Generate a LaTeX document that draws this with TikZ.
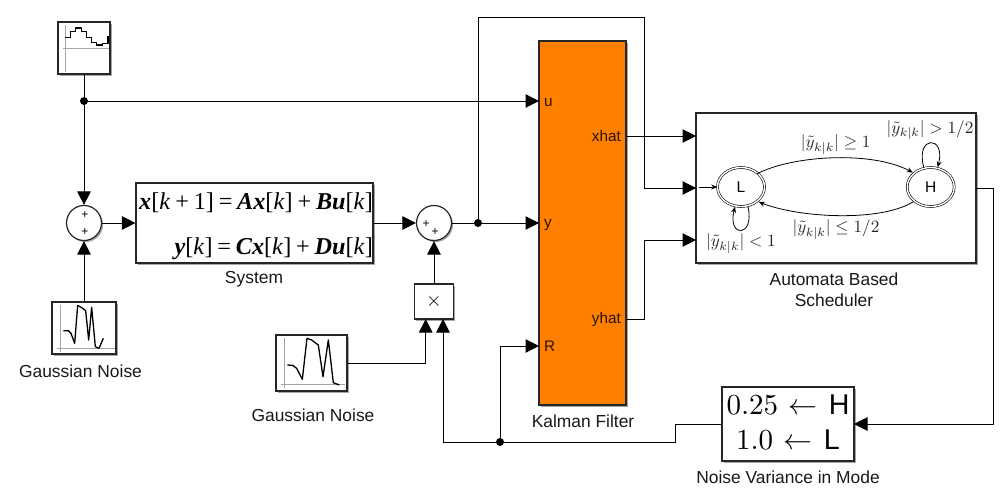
\documentclass[tikz,border=0pt]{standalone}
\usepackage{amsmath,amssymb}
\usepackage{graphicx}
\usepackage{fontspec}
\setmainfont{Liberation Sans}
\newfontfamily\eqfont{Liberation Serif}
\usetikzlibrary{arrows.meta,shapes.geometric,shadows,calc}
\definecolor{kalman}{HTML}{FF8000}
\newcommand{\bi}[1]{{\bfseries\itshape #1}}
\newcommand{\kk}{[\textit{k}]}
\newcommand{\op}[1]{\hspace{.2em}#1\hspace{.2em}}
\newcommand{\modeline}[2]{\scalebox{2.9}{$#1$\hspace{3.6pt}$\leftarrow$\hspace{3.9pt}}\scalebox{2.75}{\fontsize{10.4}{12}\selectfont #2}}
\tikzset{
  x=1pt,y=-1pt,
  blockbase/.style={draw=black!85,line width=1.2pt,fill=white,inner sep=0pt,rectangle,
    drop shadow={shadow xshift=1.6pt,shadow yshift=-1.6pt,opacity=.35,fill=black}},
  sumbase/.style={blockbase,circle,minimum size=35pt},
  sig/.style={line width=1pt,-{Triangle[length=13.5pt,width=13.5pt]}},
  wire/.style={line width=1pt},
  dotj/.style={circle,fill=black,inner sep=0pt,minimum size=8pt},
  lab/.style={font=\fontsize{17.4}{21}\selectfont,inner sep=0pt,align=center,text=black!90},
  port/.style={font=\fontsize{15.3}{18}\selectfont,inner sep=0pt,text=black!85!kalman},
  plus/.style={font=\fontsize{12}{12}\selectfont,inner sep=0pt},
  state/.style={draw=black,ellipse,line width=.6pt,double,double distance=1.4pt,minimum width=47pt,minimum height=39pt,inner sep=0pt,fill=white,font=\fontsize{15.5}{18}\selectfont},
  auto/.style={line width=.8pt,-{Stealth[length=6pt,width=5pt]}},
  translab/.style={inner sep=0pt,scale=1.72,text=black!85},
  axisl/.style={line width=.9pt,black!35},
  trace/.style={line width=1.3pt,black,line join=round},
}
\begin{document}
\begin{tikzpicture}
\useasboundingbox (0,0) rectangle (1007,501);
\fill[white] (0,0) rectangle (1007,501);

% blocks
\node[blockbase,minimum width=52pt,minimum height=52pt] (step) at (84,48) {};
\node[blockbase,minimum width=64pt,minimum height=52pt] (noisea) at (84,328) {};
\node[blockbase,minimum width=71pt,minimum height=56pt] (noiseb) at (311.5,363) {};
\node[sumbase] (suma) at (84,223) {};
\node[sumbase] (sumb) at (434,223) {};
\node[blockbase,minimum width=237pt,minimum height=80pt] (sys) at (254.5,223)
  {\hspace{3pt}\raisebox{-2.5pt}[\height][\depth]{\eqfont\fontsize{24.2}{30}\selectfont\begin{tabular}{@{}r@{}}\bi{x}[\textit{k}\op{+}1]\op{=}\bi{Ax}\kk\op{+}\bi{Bu}\kk\\[15pt]\bi{y}\kk\op{=}\bi{Cx}\kk\op{+}\bi{Du}\kk\end{tabular}}};
\node[blockbase,minimum width=39pt,minimum height=35pt] (prod) at (434,301.5) {\scalebox{2}{$\times$}};
\node[blockbase,fill=kalman,minimum width=87pt,minimum height=364pt] (kal) at (582.5,223) {};
\node[blockbase,minimum width=280pt,minimum height=150pt] (sched) at (836,188) {};
\node[blockbase,minimum width=132pt,minimum height=74pt] (var) at (788,424)
  {\begin{tabular}{@{}c@{}}\modeline{0.25}{H}\\[12pt]\modeline{1.0}{L}\end{tabular}};

% block labels
\node[lab] (lsys) at (254,279) {System};
\node[lab] (lkal) at (583,421) {Kalman Filter};
\node[lab] (lvar) at (788,477) {Noise Variance in Mode};
\node[lab] (lsched) at (834,289.5) {Automata Based\\Scheduler};
\node[lab] (lna) at (80.5,371) {Gaussian Noise};
\node[lab] (lnb) at (313,415) {Gaussian Noise};

% port labels
\node[port,anchor=west] (pu) at (544,102.5) {u};
\node[port,anchor=west] (py) at (544,225) {y};
\node[port,anchor=west] (pr) at (544,346) {R};
\node[port,anchor=east] (px) at (621,136.5) {xhat};
\node[port,anchor=east] (pyh) at (621,320) {yhat};

% sum signs
\node[plus] (sa1) at (85,215) {+};
\node[plus] (sa2) at (85,232.5) {+};
\node[plus] (sb1) at (426,224) {+};
\node[plus] (sb2) at (435,232.5) {+};

% port coordinates
\coordinate (ku) at (539,101);
\coordinate (ky) at (539,223);
\coordinate (kr) at (539,346);
\coordinate (kx) at (626,136);
\coordinate (kyh) at (626,319);
\coordinate (sx) at (696,136);
\coordinate (sf) at (696,188);
\coordinate (sy) at (696,240);
\coordinate (so) at (976,188);
\coordinate (vin) at (854,424);
\coordinate (vout) at (722,424);
\coordinate (pa) at (425.7,319);
\coordinate (pb) at (443,319);
\coordinate (na) at (347,363);
\coordinate (ctop1) at (478,17.5);
\coordinate (ctop2) at (644.5,17.5);
\coordinate (cy) at (644.5,240);
\coordinate (cout) at (993,188);
\coordinate (cout2) at (993,424);
\coordinate (cv1) at (675,424);
\coordinate (cv2) at (675,442);
\coordinate (cb) at (443,442);

% junctions
\node[dotj] (ja) at (84,101) {};
\node[dotj] (jb) at (478,223) {};
\node[dotj] (jc) at (500,442) {};

% connectors
\draw[wire] (step.south) -- (ja);
\draw[sig] (ja) -- (ku);
\draw[sig] (ja) -- (suma.north);
\draw[sig] (noisea.north) -- (suma.south);
\draw[sig] (suma.east) -- (sys.west);
\draw[sig] (sys.east) -- (sumb.west);
\draw[sig] (prod.north) -- (sumb.south);
\draw[sig] (sumb.east) -- (jb) -- (ky);
\draw[sig] (jb) -- (ctop1) -- (ctop2) -- (ctop2 |- sf) -- (sf);
\draw[sig] (kx) -- (sx);
\draw[sig] (kyh) -- (kyh -| cy) -- (cy) -- (sy);
\draw[sig] (so) -- (cout) -- (cout2) -- (vin);
\draw[wire] (vout) -- (cv1) -- (cv2) -- (jc);
\draw[sig] (jc) -- (cb) -- (pb);
\draw[sig] (jc) -- (jc |- kr) -- (kr);
\draw[sig] (na) -- (na -| pa) -- (pa);

% icons
\begin{scope}[shift={(0pt,0pt)},x=.33333pt,y=-.33333pt]
  \draw[axisl] (197,75) -- (197,216) (190,145) -- (328,145);
  \draw[trace] (195,112) -- (212,112) -- (212,95) -- (226,95) -- (226,84) -- (245,84) -- (245,94) -- (260,94) -- (260,112) -- (275,112) -- (275,128) -- (290,128) -- (290,135) -- (307,135) -- (307,130) -- (324,130) -- (324,108);
\end{scope}
\begin{scope}[shift={(0pt,-280pt)},x=.33333pt,y=-.33333pt]
  \draw[axisl] (181,76) -- (181,215) (170,205) -- (345,205);
  \draw[trace] (190,152) -- (205,152) -- (213,160) -- (224,190) -- (233,76) -- (245,83) -- (257,92) -- (266,180) -- (275,82) -- (286,200) -- (297,205) -- (310,175);
  \draw[axisl] (854,175) -- (854,325) (842,313) -- (1035,313);
  \draw[trace] (862,255) -- (878,256) -- (890,265) -- (907,298) -- (921,175) -- (935,180) -- (955,195) -- (969,290) -- (985,180) -- (1000,308) -- (1018,315);
\end{scope}

% automaton
\node[state] (L) at (741,187) {L};
\node[state] (H) at (930.7,187) {H};
\coordinate (init) at (699,187);
\draw[auto] (init) -- (L.west);
\draw[auto] ([shift={(-1,1)}]L.north east) .. controls (790,156) and (870,150) .. ([shift={(-1,-0.5)}]H.north west);
\draw[auto] ([shift={(-1,1)}]H.south west) .. controls (880,222) and (800,218) .. ([shift={(1,1)}]L.south east);
\draw[auto] ([shift={(-7,0)}]H.north) .. controls (915,135) and (946,135) .. ([shift={(7,0)}]H.north);
\draw[auto] ([shift={(7,0)}]L.south) .. controls (755,238) and (727,238) .. ([shift={(-6,0)}]L.south);
\node[translab] (t1) at (835.7,144.5) {$|\tilde y_{k|k}|\geq 1$};
\node[translab] (t2) at (930,130) {$|\tilde y_{k|k}|>1/2$};
\node[translab] (t3) at (836,229.5) {$|\tilde y_{k|k}|\leq 1/2$};
\node[translab] (t4) at (741,243.5) {$|\tilde y_{k|k}|<1$};
\end{tikzpicture}
\end{document}
